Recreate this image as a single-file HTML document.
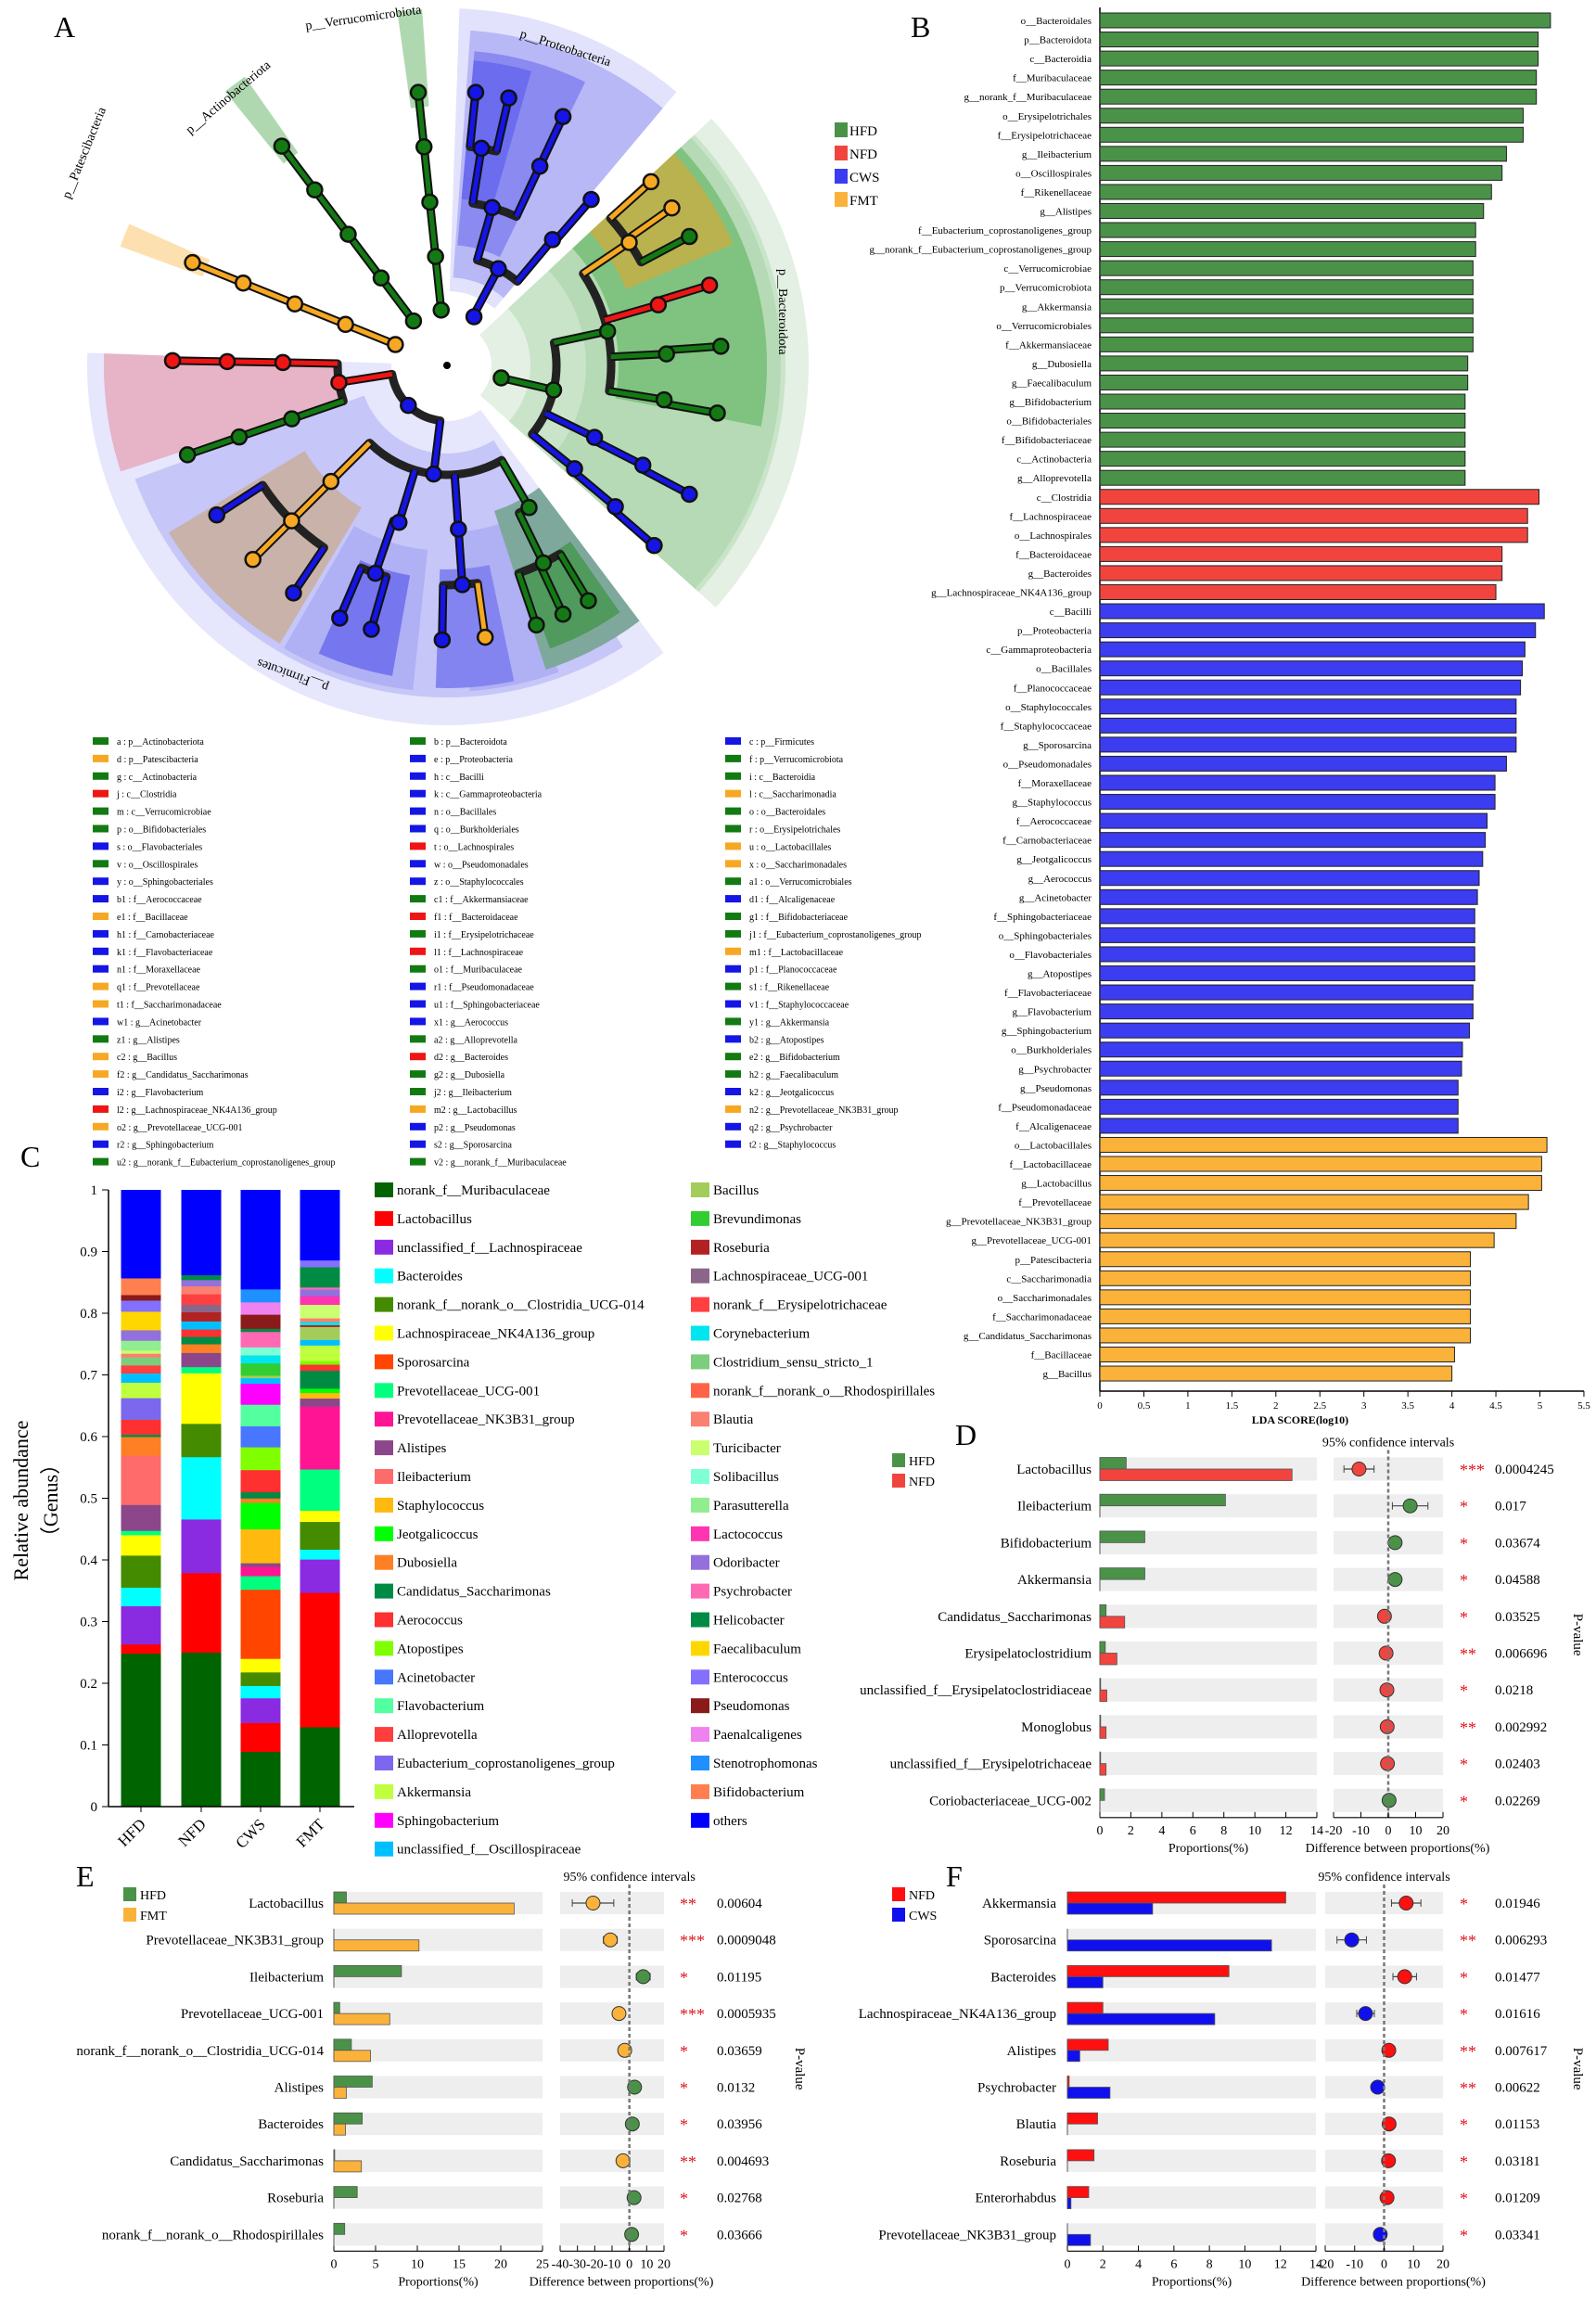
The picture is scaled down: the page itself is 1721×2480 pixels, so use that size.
<!DOCTYPE html>
<html><head><meta charset="utf-8">
<style>
html,body{margin:0;padding:0;background:#fff;}
svg{display:block;font-family:"Liberation Serif","DejaVu Serif",serif;}
</style></head>
<body>
<svg id="fig" xmlns="http://www.w3.org/2000/svg" width="1721" height="2480" viewBox="0 0 1721 2480">
<rect x="0" y="0" width="1721" height="2480" fill="#fff"/>
<text x="58" y="40" font-size="32">A</text>
<text x="982" y="40" font-size="32">B</text>
<text x="22" y="1258" font-size="32">C</text>
<text x="1030" y="1558" font-size="32">D</text>
<text x="82" y="2034" font-size="32">E</text>
<text x="1020" y="2034" font-size="32">F</text>
<g id="gA"></g>
<g id="gAL"></g>
<g id="gB"></g>
<g id="gC"></g>
<g id="gD"></g>
<g id="gE"></g>
<g id="gF"></g>
</svg>
<script>
const NS="http://www.w3.org/2000/svg";
const COL={HFD:"#4a9248",NFD:"#f2443f",CWS:"#3c3cf0",FMT:"#fbb23a"};
const NODE={g:"#137a13",b:"#1515e6",r:"#ee1515",o:"#f7a823"};

/* ---------- Panel B data ---------- */
const bLabels=["o__Bacteroidales","p__Bacteroidota","c__Bacteroidia","f__Muribaculaceae","g__norank_f__Muribaculaceae","o__Erysipelotrichales","f__Erysipelotrichaceae","g__Ileibacterium","o__Oscillospirales","f__Rikenellaceae","g__Alistipes","f__Eubacterium_coprostanoligenes_group","g__norank_f__Eubacterium_coprostanoligenes_group","c__Verrucomicrobiae","p__Verrucomicrobiota","g__Akkermansia","o__Verrucomicrobiales","f__Akkermansiaceae","g__Dubosiella","g__Faecalibaculum","g__Bifidobacterium","o__Bifidobacteriales","f__Bifidobacteriaceae","c__Actinobacteria","g__Alloprevotella",
"c__Clostridia","f__Lachnospiraceae","o__Lachnospirales","f__Bacteroidaceae","g__Bacteroides","g__Lachnospiraceae_NK4A136_group",
"c__Bacilli","p__Proteobacteria","c__Gammaproteobacteria","o__Bacillales","f__Planococcaceae","o__Staphylococcales","f__Staphylococcaceae","g__Sporosarcina","o__Pseudomonadales","f__Moraxellaceae","g__Staphylococcus","f__Aerococcaceae","f__Carnobacteriaceae","g__Jeotgalicoccus","g__Aerococcus","g__Acinetobacter","f__Sphingobacteriaceae","o__Sphingobacteriales","o__Flavobacteriales","g__Atopostipes","f__Flavobacteriaceae","g__Flavobacterium","g__Sphingobacterium","o__Burkholderiales","g__Psychrobacter","g__Pseudomonas","f__Pseudomonadaceae","f__Alcaligenaceae",
"o__Lactobacillales","f__Lactobacillaceae","g__Lactobacillus","f__Prevotellaceae","g__Prevotellaceae_NK3B31_group","g__Prevotellaceae_UCG-001","p__Patescibacteria","c__Saccharimonadia","o__Saccharimonadales","f__Saccharimonadaceae","g__Candidatus_Saccharimonas","f__Bacillaceae","g__Bacillus"];
const bValues=[5.12,4.98,4.98,4.96,4.96,4.81,4.81,4.62,4.57,4.45,4.36,4.27,4.27,4.24,4.24,4.24,4.24,4.24,4.18,4.18,4.15,4.15,4.15,4.15,4.15,
4.99,4.86,4.86,4.57,4.57,4.5,
5.05,4.95,4.83,4.8,4.78,4.73,4.73,4.73,4.62,4.49,4.49,4.4,4.38,4.35,4.31,4.29,4.26,4.26,4.26,4.26,4.24,4.24,4.2,4.12,4.11,4.07,4.07,4.07,
5.08,5.02,5.02,4.87,4.73,4.48,4.21,4.21,4.21,4.21,4.21,4.03,4.0];
const bGroups=[].concat(Array(25).fill("HFD"),Array(6).fill("NFD"),Array(28).fill("CWS"),Array(13).fill("FMT"));
const bTicks=["0","0.5","1","1.5","2","2.5","3","3.5","4","4.5","5","5.5"];

/* ---------- Panel C data ---------- */
const cGroups=["HFD","NFD","CWS","FMT"];
const cTaxa=["norank_f__Muribaculaceae","Lactobacillus","unclassified_f__Lachnospiraceae","Bacteroides","norank_f__norank_o__Clostridia_UCG-014","Lachnospiraceae_NK4A136_group","Sporosarcina","Prevotellaceae_UCG-001","Prevotellaceae_NK3B31_group","Alistipes","Ileibacterium","Staphylococcus","Jeotgalicoccus","Dubosiella","Candidatus_Saccharimonas","Aerococcus","Atopostipes","Acinetobacter","Flavobacterium","Alloprevotella","Eubacterium_coprostanoligenes_group","Akkermansia","Sphingobacterium","unclassified_f__Oscillospiraceae",
"Bacillus","Brevundimonas","Roseburia","Lachnospiraceae_UCG-001","norank_f__Erysipelotrichaceae","Corynebacterium","Clostridium_sensu_stricto_1","norank_f__norank_o__Rhodospirillales","Blautia","Turicibacter","Solibacillus","Parasutterella","Lactococcus","Odoribacter","Psychrobacter","Helicobacter","Faecalibaculum","Enterococcus","Pseudomonas","Paenalcaligenes","Stenotrophomonas","Bifidobacterium","others"];
const cColors=["#006400","#ff0000","#8a2be2","#00ffff","#458b00","#ffff00","#ff4500","#00ff7f","#ff1493","#8b4789","#ff6a6a","#ffb90f","#00ff00","#ff7f24","#008b45","#ff3030","#7fff00","#4876ff","#54ff9f","#ff3e3e","#7b68ee","#c0ff3e","#ff00ff","#00bfff",
"#a2cd5a","#32cd32","#b22222","#8b668b","#ff4040","#00e5ee","#7ccd7c","#ff6347","#fa8072","#caff70","#7fffd4","#90ee90","#ff34b3","#9370db","#ff69b4","#008b45","#ffd700","#8470ff","#8b1a1a","#ee82ee","#1e90ff","#ff7f50","#0000ff"];
const cHFD=[0.248,0.015,0.062,0.03,0.052,0.033,0,0.007,0,0.042,0.08,0,0,0.03,0.004,0.024,0,0,0,0,0.035,0.025,0,0.015,0,0,0,0,0.013,0,0.013,0,0.006,0.005,0,0.016,0,0.017,0,0,0.03,0.018,0.009,0,0,0.027,0.143];
const cNFD=[0.25,0.129,0.087,0.101,0.054,0.082,0,0.01,0,0.023,0,0,0,0.014,0.012,0.012,0,0,0,0,0,0,0,0.013,0,0,0.015,0.012,0.017,0,0,0,0.013,0,0,0,0,0.01,0,0.008,0,0,0,0,0,0,0.138];
const cCWS=[0.089,0.047,0.04,0.02,0.022,0.022,0.112,0.022,0.015,0.006,0,0.055,0.043,0.007,0.01,0.036,0.037,0.034,0.035,0,0,0,0.034,0.009,0.004,0.02,0,0,0,0.013,0,0,0,0,0.013,0,0,0,0.025,0.005,0,0,0.023,0.02,0.021,0,0.161];
const cFMT=[0.129,0.218,0.054,0.016,0.045,0.018,0,0.067,0.102,0.013,0,0.009,0.007,0,0.029,0.01,0.006,0,0,0,0,0.025,0,0.009,0.021,0,0.003,0,0,0.005,0,0,0.006,0.022,0,0,0.014,0.011,0.003,0.033,0,0.011,0,0,0,0,0.114];
const cTicks=["0","0.1","0.2","0.3","0.4","0.5","0.6","0.7","0.8","0.9","1"];

/* ---------- Panel D/E/F data ---------- */
const dTaxa=["Lactobacillus","Ileibacterium","Bifidobacterium","Akkermansia","Candidatus_Saccharimonas","Erysipelatoclostridium","unclassified_f__Erysipelatoclostridiaceae","Monoglobus","unclassified_f__Erysipelotrichaceae","Coriobacteriaceae_UCG-002"];
const dA=[1.7,8.1,2.9,2.9,0.4,0.35,0.05,0.05,0.05,0.3];
const dB=[12.4,0,0,0,1.6,1.1,0.45,0.4,0.4,0];
const dDiff=[-10.7,8,2.5,2.5,-1.4,-0.8,-0.5,-0.4,-0.3,0.3];
const dCI=[5.5,6.5,1,1,0.8,0.6,0.3,0.3,0.3,0.2];
const dStars=["***","*","*","*","*","**","*","**","*","*"];
const dP=["0.0004245","0.017","0.03674","0.04588","0.03525","0.006696","0.0218","0.002992","0.02403","0.02269"];
const dPropTicks=["0","2","4","6","8","10","12","14"];
const dDiffTicks=["-20","-10","0","10","20"];

const eTaxa=["Lactobacillus","Prevotellaceae_NK3B31_group","Ileibacterium","Prevotellaceae_UCG-001","norank_f__norank_o__Clostridia_UCG-014","Alistipes","Bacteroides","Candidatus_Saccharimonas","Roseburia","norank_f__norank_o__Rhodospirillales"];
const eA=[1.5,0,8.1,0.7,2.1,4.6,3.4,0.1,2.8,1.3];
const eB=[21.6,10.2,0,6.7,4.4,1.5,1.4,3.3,0,0];
const eDiff=[-21,-11,8,-6,-2.7,3,1.7,-3.7,2.7,1.3];
const eCI=[12,4,4,1,1,1,1,1,1,1];
const eStars=["**","***","*","***","*","*","*","**","*","*"];
const eP=["0.00604","0.0009048","0.01195","0.0005935","0.03659","0.0132","0.03956","0.004693","0.02768","0.03666"];
const ePropTicks=["0","5","10","15","20","25"];
const eDiffTicks=["-40","-30","-20","-10","0","10","20"];

const fTaxa=["Akkermansia","Sporosarcina","Bacteroides","Lachnospiraceae_NK4A136_group","Alistipes","Psychrobacter","Blautia","Roseburia","Enterorhabdus","Prevotellaceae_NK3B31_group"];
const fA=[12.3,0,9.1,2,2.3,0.1,1.7,1.5,1.2,0];
const fB=[4.8,11.5,2,8.3,0.7,2.4,0,0,0.2,1.3];
const fDiff=[7.5,-11,7,-6.3,1.6,-2.2,1.7,1.5,1.0,-1.3];
const fCI=[5,5,4,3,0.8,0.8,0.5,0.5,0.5,0.5];
const fStars=["*","**","*","*","**","**","*","*","*","*"];
const fP=["0.01946","0.006293","0.01477","0.01616","0.007617","0.00622","0.01153","0.03181","0.01209","0.03341"];

/* ---------- Panel A legend ---------- */
const aLegend=[
["a : p__Actinobacteriota","g"],["d : p__Patescibacteria","o"],["g : c__Actinobacteria","g"],["j : c__Clostridia","r"],["m : c__Verrucomicrobiae","g"],["p : o__Bifidobacteriales","g"],["s : o__Flavobacteriales","b"],["v : o__Oscillospirales","g"],["y : o__Sphingobacteriales","b"],["b1 : f__Aerococcaceae","b"],["e1 : f__Bacillaceae","o"],["h1 : f__Carnobacteriaceae","b"],["k1 : f__Flavobacteriaceae","b"],["n1 : f__Moraxellaceae","b"],["q1 : f__Prevotellaceae","o"],["t1 : f__Saccharimonadaceae","o"],["w1 : g__Acinetobacter","b"],["z1 : g__Alistipes","g"],["c2 : g__Bacillus","o"],["f2 : g__Candidatus_Saccharimonas","o"],["i2 : g__Flavobacterium","b"],["l2 : g__Lachnospiraceae_NK4A136_group","r"],["o2 : g__Prevotellaceae_UCG-001","o"],["r2 : g__Sphingobacterium","b"],["u2 : g__norank_f__Eubacterium_coprostanoligenes_group","g"],
["b : p__Bacteroidota","g"],["e : p__Proteobacteria","b"],["h : c__Bacilli","b"],["k : c__Gammaproteobacteria","b"],["n : o__Bacillales","b"],["q : o__Burkholderiales","b"],["t : o__Lachnospirales","r"],["w : o__Pseudomonadales","b"],["z : o__Staphylococcales","b"],["c1 : f__Akkermansiaceae","g"],["f1 : f__Bacteroidaceae","r"],["i1 : f__Erysipelotrichaceae","g"],["l1 : f__Lachnospiraceae","r"],["o1 : f__Muribaculaceae","g"],["r1 : f__Pseudomonadaceae","b"],["u1 : f__Sphingobacteriaceae","b"],["x1 : g__Aerococcus","b"],["a2 : g__Alloprevotella","g"],["d2 : g__Bacteroides","r"],["g2 : g__Dubosiella","g"],["j2 : g__Ileibacterium","g"],["m2 : g__Lactobacillus","o"],["p2 : g__Pseudomonas","b"],["s2 : g__Sporosarcina","b"],["v2 : g__norank_f__Muribaculaceae","g"],
["c : p__Firmicutes","b"],["f : p__Verrucomicrobiota","g"],["i : c__Bacteroidia","g"],["l : c__Saccharimonadia","o"],["o : o__Bacteroidales","g"],["r : o__Erysipelotrichales","g"],["u : o__Lactobacillales","o"],["x : o__Saccharimonadales","o"],["a1 : o__Verrucomicrobiales","g"],["d1 : f__Alcaligenaceae","b"],["g1 : f__Bifidobacteriaceae","g"],["j1 : f__Eubacterium_coprostanoligenes_group","g"],["m1 : f__Lactobacillaceae","o"],["p1 : f__Planococcaceae","b"],["s1 : f__Rikenellaceae","g"],["v1 : f__Staphylococcaceae","b"],["y1 : g__Akkermansia","g"],["b2 : g__Atopostipes","b"],["e2 : g__Bifidobacterium","g"],["h2 : g__Faecalibaculum","g"],["k2 : g__Jeotgalicoccus","b"],["n2 : g__Prevotellaceae_NK3B31_group","o"],["q2 : g__Psychrobacter","b"],["t2 : g__Staphylococcus","b"]];

/* ---------- helpers ---------- */
function mk(tag,attrs,name,parent){
  const el=document.createElementNS(NS,tag);
  for(const k in attrs) el.setAttribute(k,attrs[k]);
  
  
  parent.appendChild(el);
  return el;
}
function txt(s,attrs,name,parent){const t=mk('text',attrs,name,parent);t.textContent=s;return t;}

/* ---------- Panel A: cladogram ---------- */
(function(){
  const g=document.getElementById('gA');
  const cx=482,cy=394;
  const P=(r,a)=>{const t=a*Math.PI/180;return [cx+r*Math.sin(t),cy-r*Math.cos(t)];};
  function sector(a1,a2,r1,r2,fill,name){
    const p1=P(r2,a1),p2=P(r2,a2),p3=P(r1,a2),p4=P(r1,a1);const lg=(a2-a1)>180?1:0;
    mk('path',{d:`M${p1}A${r2},${r2} 0 ${lg} 1 ${p2}L${p3}A${r1},${r1} 0 ${lg} 0 ${p4}Z`,fill:fill},name,g);
  }
  const secs=[[143,272,60,388,"#e6e6fc"],[148,250,95,358,"#c6c6f8"],[160,176,180,352,"#b0b0f5"],[186,210,200,352,"#b0b0f5"],[190,204,230,340,"#7676ee"],[168,182,220,348,"#8484f0"],[211,239,179,350,"#c8b2aa"],[252,272,118,370,"#e6b4c6"],[143,162,165,345,"#7fa89c"],[145,160,232,325,"#4f9a5c"],
    [47,132,48,390,"#e3f0e3"],[47,132,90,365,"#c9e4c9"],[47,132,150,360,"#b5dab5"],[47,101,185,345,"#80c280"],[47,67,210,335,"#b9b24e"],
    [2,40,80,385,"#e2e2fc"],[4,40,95,362,"#b8b8f7"],[5,26,130,340,"#8a8af1"],[5,16,180,330,"#6c6cee"],
    [352,356,280,385,"#b0d8b0"],[321,325,280,380,"#b0d8b0"],[290,294,280,375,"#fde0b0"]];
  secs.forEach(s=>sector(s[0],s[1],s[2],s[3],s[4],'clade-sector'));
  // tree: [id,parent,radius,angle,color]
  const tree=[
   ["pat",null,60,292,"o"],["pat2","pat",118,292,"o"],["pat3","pat2",177,292,"o"],["pat4","pat3",237,292,"o"],["pat5","pat4",296,292,"o"],
   ["act",null,60,323,"g"],["act2","act",118,323,"g"],["act3","act2",177,323,"g"],["act4","act3",237,323,"g"],["act5","act4",296,323,"g"],
   ["ver",null,60,354,"g"],["ver2","ver",118,354,"g"],["ver3","ver2",177,354,"g"],["ver4","ver3",237,354,"g"],["ver5","ver4",296,354,"g"],
   ["pro",null,60,29,"b"],["gam","pro",118,28,"b"],["pse","gam",177,16,"b"],["bur","gam",177,40,"b"],["alc","bur",237,41,"b"],
   ["mor","pse",237,9,"b"],["psf","pse",237,25,"b"],["aci","mor",296,6,"b"],["psy","mor",296,13,"b"],["psg","psf",296,25,"b"],
   ["bac",null,60,103,"g"],["bdi","bac",118,103,"g"],["bdl","bdi",177,78,"g"],["flo","bdi",177,116,"b"],["sph","bdi",177,129,"b"],
   ["prv","bdl",237,56,"o"],["bcd","bdl",237,74,"r"],["mur","bdl",237,87,"g"],["rik","bdl",237,99,"g"],
   ["nk3","prv",296,48,"o"],["ucg","prv",296,55,"o"],["all","prv",296,62,"g"],["bcs","bcd",296,73,"r"],["nmu","mur",296,86,"g"],["ali","rik",296,100,"g"],
   ["flf","flo",237,117,"b"],["flg","flf",296,118,"b"],["spf","sph",237,130,"b"],["spg","spf",296,131,"b"],
   ["fir",null,60,224,"b"],["bci","fir",118,187,"b"],["clo","fir",118,261,"r"],
   ["lac","bci",177,225,"o"],["bcl","bci",177,197,"b"],["sta","bci",177,176,"b"],["ery","bci",177,150,"g"],
   ["lcf","lac",237,225,"o"],["car","lcf",296,237,"b"],["lcb","lcf",296,225,"o"],["aer","lcf",296,214,"b"],
   ["pla","bcl",237,199,"b"],["spo","pla",296,203,"b"],["bcf","pla",296,196,"b"],
   ["stf","sta",237,176,"b"],["stg","stf",296,181,"b"],["jeo","stf",296,172,"o"],
   ["erf","ery",237,154,"g"],["ile","erf",296,149,"g"],["dub","erf",296,155,"g"],["fae","erf",296,161,"g"],
   ["lcs","clo",177,271,"r"],["lcy","lcs",237,271,"r"],["nk4","lcy",296,271,"r"],
   ["osc","clo",177,251,"g"],["eub","osc",237,251,"g"],["neu","eub",296,251,"g"]];
  const byId={};tree.forEach(t=>byId[t[0]]=t);
  // black arcs connecting siblings at parent radius
  const kids={};tree.forEach(t=>{if(t[1]){(kids[t[1]]=kids[t[1]]||[]).push(t);}});
  for(const pid in kids){
    const p=byId[pid];const angs=kids[pid].map(k=>k[3]).concat([p[3]]);
    const a1=Math.min(...angs),a2=Math.max(...angs);
    if(a2-a1>0.5){const s=P(p[2],a1),e=P(p[2],a2);
      mk('path',{d:`M${s}A${p[2]},${p[2]} 0 0 1 ${e}`,fill:"none",stroke:"#222",'stroke-width':9,'stroke-linecap':'round'},'clade-arc',g);}
  }
  tree.forEach(t=>{if(t[1]){const p=byId[t[1]];const s=P(p[2],t[3]),e=P(t[2],t[3]);
    mk('line',{x1:s[0],y1:s[1],x2:e[0],y2:e[1],stroke:"#111",'stroke-width':9},'clade-branch-outline',g);
    mk('line',{x1:s[0],y1:s[1],x2:e[0],y2:e[1],stroke:NODE[t[4]],'stroke-width':5},'clade-branch',g);}});
  tree.forEach(t=>{const c=P(t[2],t[3]);mk('circle',{cx:c[0],cy:c[1],r:8,fill:NODE[t[4]],stroke:"#111",'stroke-width':2.5},'clade-node',g);});
  mk('circle',{cx:cx,cy:cy,r:4,fill:"#000"},'clade-root',g);
  const labs=[["p__Patescibacteria",75,215,-68],["p__Actinobacteriota",205,145,-40],["p__Verrucomicrobiota",330,32,-8],["p__Proteobacteria",560,40,18],["p__Bacteroidota",840,290,90],["p__Firmicutes",355,738,200]];
  labs.forEach(l=>txt(l[0],{x:l[1],y:l[2],'font-size':14,transform:`rotate(${l[3]} ${l[1]} ${l[2]})`},'phylum-label',g));
})();

/* ---------- Panel A legend ---------- */
(function(){
  const g=document.getElementById('gAL');
  aLegend.forEach((e,i)=>{const col=Math.floor(i/25),row=i%25;
    const x=[100,442,782][col],y=800+row*18.9;
    mk('rect',{x:x,y:y-5,width:17,height:8,fill:NODE[e[1]]},'clade-legend-swatch',g);
    txt(e[0],{x:x+26,y:y+3,'font-size':10},'clade-legend-text',g);});
})();

/* ---------- Panel B ---------- */
(function(){
  const g=document.getElementById('gB');
  const x0=1186,unit=94.9,y0=22,pitch=20.55,bh=16;
  const X=v=>x0+v*unit;
  mk('line',{x1:x0,y1:8,x2:x0,y2:1500,stroke:"#000",'stroke-width':1.5},'y-axis',g);
  mk('line',{x1:x0,y1:1500,x2:X(5.5),y2:1500,stroke:"#000",'stroke-width':1.5},'x-axis',g);
  bTicks.forEach((t,i)=>{const v=parseFloat(t);mk('line',{x1:X(v),y1:1500,x2:X(v),y2:1506,stroke:"#000"},'x-tick',g);
    txt(t,{x:X(v),y:1519,'font-size':11,'text-anchor':'middle'},'x-tick-label',g);});
  txt("LDA SCORE(log10)",{x:X(2.75)-45,y:1535,'font-size':12,'font-weight':'bold','text-anchor':'middle'},'x-axis-title',g);
  bLabels.forEach((l,i)=>{const yc=y0+i*pitch;
    mk('rect',{x:x0,y:yc-bh/2,width:X(bValues[i])-x0,height:bh,fill:COL[bGroups[i]],stroke:"#222",'stroke-width':1},'lda-bar',g);
    txt(l,{x:1177,y:yc+4,'font-size':11,'text-anchor':'end'},'lda-label',g);});
  ["HFD","NFD","CWS","FMT"].forEach((k,i)=>{mk('rect',{x:900,y:132+i*25,width:14,height:16,fill:COL[k]},'legend-swatch',g);
    txt(k,{x:916,y:146+i*25,'font-size':15},'legend-label',g);});
})();

/* ---------- Panel C ---------- */
(function(){
  const g=document.getElementById('gC');
  const ax=117,y0=1948,y1=1283;const Y=v=>y0-(y0-y1)*v;
  const centers=[152,217,281,345],bw=43;
  const data=[cHFD,cNFD,cCWS,cFMT];
  data.forEach((arr,gi)=>{const tot=arr.reduce((a,b)=>a+b,0);let acc=0;
    arr.forEach((v,i)=>{if(v<=0)return;const a=acc/tot,b=(acc+v)/tot;acc+=v;
      mk('rect',{x:centers[gi]-bw/2,y:Y(b),width:bw,height:Y(a)-Y(b)+0.3,fill:cColors[i]},'stack-segment',g);});
    mk('line',{x1:centers[gi],y1:y0,x2:centers[gi],y2:y0+6,stroke:"#000"},'x-tick',g);
    txt(cGroups[gi],{x:centers[gi]+6,y:y0+20,'font-size':17,'text-anchor':'end',transform:`rotate(-45 ${centers[gi]+6} ${y0+20})`},'x-tick-label',g);});
  mk('line',{x1:ax,y1:y1,x2:ax,y2:y0,stroke:"#000",'stroke-width':1.5},'y-axis',g);
  mk('line',{x1:ax,y1:y0,x2:382,y2:y0,stroke:"#000",'stroke-width':1.5},'x-axis',g);
  cTicks.forEach(t=>{const v=parseFloat(t);mk('line',{x1:ax-7,y1:Y(v),x2:ax,y2:Y(v),stroke:"#000"},'y-tick',g);
    txt(t,{x:ax-12,y:Y(v)+5,'font-size':15,'text-anchor':'end'},'y-tick-label',g);});
  txt("Relative abundance",{x:30,y:1618,'font-size':22,'text-anchor':'middle',transform:'rotate(-90 30 1618)'},'y-axis-title',g);
  txt("（Genus）",{x:62,y:1618,'font-size':22,'text-anchor':'middle',transform:'rotate(-90 62 1618)'},'y-axis-title-unit',g);
  cTaxa.forEach((t,i)=>{const col=i<24?0:1,row=i<24?i:i-24;const x=col?745:404,y=1283+row*30.9;
    mk('rect',{x:x,y:y-8,width:20,height:16,fill:cColors[i]},'legend-swatch',g);
    txt(t,{x:x+24,y:y+5,'font-size':15},'legend-label',g);});
})();

/* ---------- Panels D/E/F ---------- */
function diffChart(gid,cfg,taxa,A,B,diff,ci,stars,pv,propTicks,diffTicks,colA,colB,nameA,nameB){
  const g=document.getElementById(gid);
  const PX=v=>cfg.p0+(cfg.p1-cfg.p0)*v/cfg.pmax;
  const DX=v=>cfg.d0+(cfg.d1-cfg.d0)*(v-cfg.dmin)/(cfg.dmax-cfg.dmin);
  const bh=cfg.band;
  taxa.forEach((t,i)=>{const yc=cfg.y0+i*cfg.pitch;
    mk('rect',{x:cfg.p0,y:yc-bh/2,width:cfg.p1-cfg.p0,height:bh,fill:"#eeeeee"},'row-band',g);
    mk('rect',{x:cfg.d0,y:yc-bh/2,width:cfg.d1-cfg.d0,height:bh,fill:"#eeeeee"},'row-band',g);
    mk('line',{x1:cfg.p0,y1:yc-bh/2,x2:cfg.p0,y2:yc+bh/2,stroke:"#555"},'row-baseline',g);
    if(A[i]>0)mk('rect',{x:cfg.p0,y:yc-bh/2,width:PX(A[i])-cfg.p0,height:bh/2,fill:colA,stroke:"#555",'stroke-width':0.8},'bar-'+nameA.toLowerCase(),g);
    if(B[i]>0)mk('rect',{x:cfg.p0,y:yc,width:PX(B[i])-cfg.p0,height:bh/2,fill:colB,stroke:"#555",'stroke-width':0.8},'bar-'+nameB.toLowerCase(),g);
    txt(t,{x:cfg.lx,y:yc+5,'font-size':15,'text-anchor':'end'},'taxon-label',g);
    const c=diff[i]>=0?colA:colB;
    mk('line',{x1:DX(diff[i]-ci[i]),y1:yc,x2:DX(diff[i]+ci[i]),y2:yc,stroke:"#444",'stroke-width':1.2},'ci-line',g);
    mk('line',{x1:DX(diff[i]-ci[i]),y1:yc-4,x2:DX(diff[i]-ci[i]),y2:yc+4,stroke:"#444"},'ci-cap',g);
    mk('line',{x1:DX(diff[i]+ci[i]),y1:yc-4,x2:DX(diff[i]+ci[i]),y2:yc+4,stroke:"#444"},'ci-cap',g);
    mk('circle',{cx:DX(diff[i]),cy:yc,r:7.5,fill:c,stroke:"#333",'stroke-width':1},'diff-point',g);
    txt(stars[i],{x:cfg.sx,y:yc+7,'font-size':18,fill:"#e0141e"},'significance-stars',g);
    txt(pv[i],{x:cfg.px,y:yc+5,'font-size':15},'p-value',g);});
  const ylast=cfg.y0+(taxa.length-1)*cfg.pitch+bh/2+6;
  mk('line',{x1:DX(0),y1:cfg.y0-bh/2-8,x2:DX(0),y2:ylast,stroke:"#777",'stroke-width':2.5,'stroke-dasharray':'4,3'},'zero-line',g);
  mk('line',{x1:cfg.p0,y1:ylast,x2:cfg.p1,y2:ylast,stroke:"#000",'stroke-width':1.2},'prop-axis',g);
  mk('line',{x1:cfg.d0,y1:ylast,x2:cfg.d1,y2:ylast,stroke:"#000",'stroke-width':1.2},'diff-axis',g);
  propTicks.forEach(t=>{const x=PX(parseFloat(t));mk('line',{x1:x,y1:ylast,x2:x,y2:ylast-6,stroke:"#000"},'prop-tick',g);
    txt(t,{x:x,y:ylast+18,'font-size':14,'text-anchor':'middle'},'prop-tick-label',g);});
  diffTicks.forEach(t=>{const x=DX(parseFloat(t));mk('line',{x1:x,y1:ylast,x2:x,y2:ylast-6,stroke:"#000"},'diff-tick',g);
    txt(t,{x:x,y:ylast+18,'font-size':14,'text-anchor':'middle'},'diff-tick-label',g);});
  txt("Proportions(%)",{x:(cfg.p0+cfg.p1)/2,y:ylast+37,'font-size':14,'text-anchor':'middle'},'prop-axis-title',g);
  txt("Difference between proportions(%)",{x:(cfg.d0+cfg.d1)/2+10,y:ylast+37,'font-size':14,'text-anchor':'middle'},'diff-axis-title',g);
  txt("95% confidence intervals",{x:DX(0),y:cfg.y0-bh/2-12,'font-size':14,'text-anchor':'middle'},'ci-title',g);
  txt("P-value",{x:cfg.pvx,y:cfg.y0+4.5*cfg.pitch,'font-size':15,'text-anchor':'middle',transform:`rotate(90 ${cfg.pvx} ${cfg.y0+4.5*cfg.pitch})`},'p-value-title',g);
  mk('rect',{x:cfg.gx,y:cfg.gy,width:14,height:15,fill:colA},'legend-swatch',g);
  txt(nameA,{x:cfg.gx+18,y:cfg.gy+13,'font-size':14},'legend-label',g);
  mk('rect',{x:cfg.gx,y:cfg.gy+22,width:14,height:15,fill:colB},'legend-swatch',g);
  txt(nameB,{x:cfg.gx+18,y:cfg.gy+35,'font-size':14},'legend-label',g);
}
diffChart('gD',{p0:1186,p1:1420,pmax:14,d0:1438,d1:1556,dmin:-20,dmax:20,y0:1584,pitch:39.7,band:25,lx:1177,sx:1574,px:1612,pvx:1697,gx:962,gy:1567},
  dTaxa,dA,dB,dDiff,dCI,dStars,dP,dPropTicks,dDiffTicks,COL.HFD,COL.NFD,"HFD","NFD");
diffChart('gE',{p0:360,p1:585,pmax:25,d0:604,d1:716,dmin:-40,dmax:20,y0:2052,pitch:39.7,band:24,lx:349,sx:733,px:773,pvx:858,gx:133,gy:2035},
  eTaxa,eA,eB,eDiff,eCI,eStars,eP,ePropTicks,eDiffTicks,COL.HFD,COL.FMT,"HFD","FMT");
diffChart('gF',{p0:1151,p1:1419,pmax:14,d0:1429,d1:1556,dmin:-20,dmax:20,y0:2052,pitch:39.7,band:24,lx:1139,sx:1574,px:1612,pvx:1697,gx:962,gy:2035},
  fTaxa,fA,fB,fDiff,fCI,fStars,fP,dPropTicks,dDiffTicks,"#ff1010","#1010ee","NFD","CWS");
</script>
</body></html>
